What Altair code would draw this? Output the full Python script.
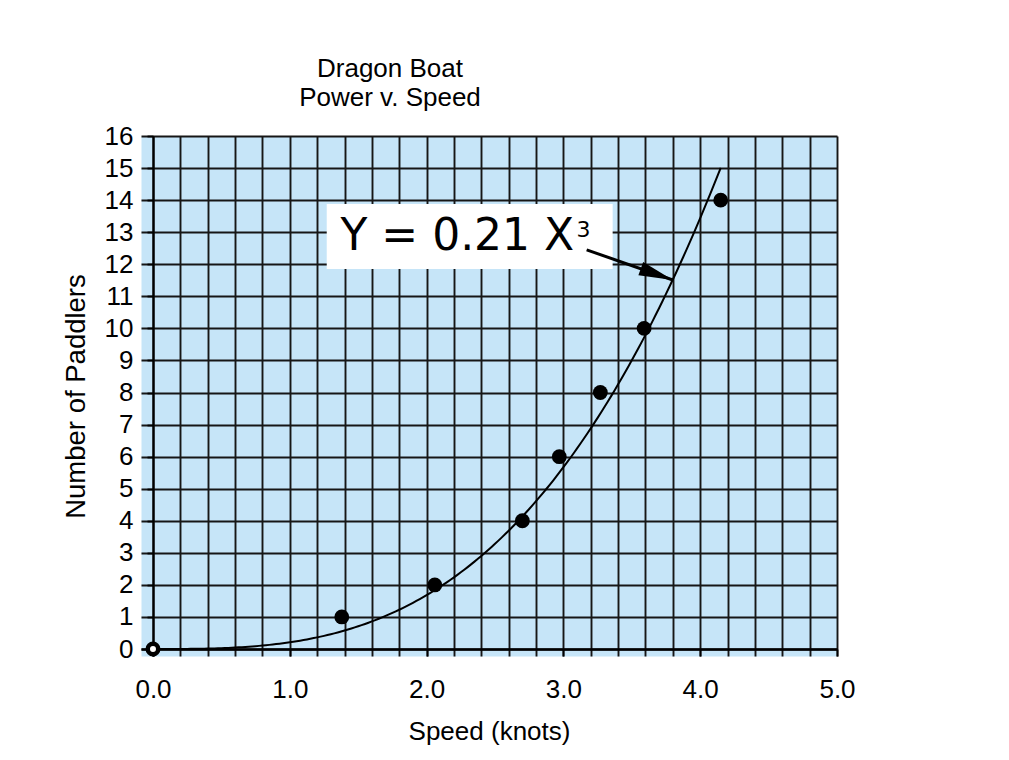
import altair as alt
import pandas as pd

# ---------------- data ----------------
speed = [1.38, 2.06, 2.70, 2.97, 3.27, 3.59, 4.15]
paddlers = [1, 2, 4, 6, 8, 10, 14]
origin_speed = [0.0]
origin_paddlers = [0]

# fitted curve Y = 0.21 X^3 (as printed on the chart)
fit_coef = 0.21
fit_power = 3
fit_end = 4.15

x_ticks = [round(i * 0.2, 1) for i in range(26)]
y_ticks = list(range(17))

title_lines = ["Dragon Boat", "Power v. Speed"]
x_title = "Speed (knots)"
y_title = "Number of Paddlers"
eq_label = ["Y = 0.21 X"]
eq_power = ["3"]

# annotation placement (data units)
box_x = [1.27]
box_x2 = [3.36]
box_y = [13.88]
box_y2 = [11.85]
label_x = [1.37]
label_y = [12.45]
arrow_x = [3.17]
arrow_y = [12.45]
arrow_x2 = [3.80]
arrow_y2 = [11.51]

FONT = "Liberation Sans, Arial, sans-serif"
GRID = "#161616"
W, H = 696, 520

xs = alt.Scale(domain=[-0.0877, 5], nice=False, zero=False)
ys = alt.Scale(domain=[-0.218, 16], nice=False, zero=False)

x_axis = alt.Axis(
    values=x_ticks,
    labelExpr="datum.value % 1 === 0 ? format(datum.value, '.1f') : ''",
    title=x_title, titleFont=FONT, titleFontSize=26, titleFontWeight="normal",
    titleColor="black", titleY=90, titleBaseline="alphabetic",
    labelFont=FONT, labelFontSize=26, labelColor="black", labelPadding=20,
    labelFlush=False, labelOverlap=False,
    tickSize=7, tickWidth=1.8,
    tickColor={"condition": {"test": "datum.value % 1 === 0", "value": "black"}, "value": "transparent"},
    domainColor="black", domainWidth=2.5,
    grid=True, gridColor=GRID, gridWidth=1.9, gridOpacity=1,
    offset=-7,
)
y_axis = alt.Axis(
    values=y_ticks, format="d",
    title=y_title, titleFont=FONT, titleFontSize=27.5, titleFontWeight="normal",
    titleColor="black", titleX=-69, titleBaseline="alphabetic",
    labelFont=FONT, labelFontSize=26, labelColor="black", labelPadding=14,
    labelFlush=False, labelOverlap=False,
    tickSize=6, tickWidth=1.8, tickColor="black",
    domainColor="black", domainWidth=2.2,
    grid=True, gridColor=GRID, gridWidth=1.9, gridOpacity=1,
    offset=-12,
)


def X(field):
    return alt.X(field, scale=xs, axis=x_axis)


def Y(field):
    return alt.Y(field, scale=ys, axis=y_axis)


pts_df = pd.DataFrame({"speed": speed, "paddlers": paddlers})
origin_df = pd.DataFrame({"speed": origin_speed, "paddlers": origin_paddlers})
box_df = pd.DataFrame({"speed": box_x, "x2": box_x2, "paddlers": box_y, "y2": box_y2})
label_df = pd.DataFrame({"speed": label_x, "paddlers": label_y, "t": eq_label, "p": eq_power})
arrow_df = pd.DataFrame({"speed": arrow_x, "paddlers": arrow_y, "x2": arrow_x2, "y2": arrow_y2})

points = alt.Chart(pts_df).mark_circle(size=220, color="black", opacity=1).encode(
    x=X("speed:Q"), y=Y("paddlers:Q"),
)

curve = (
    alt.Chart(alt.sequence(0, fit_end + 0.001, 0.025, as_="speed"))
    .transform_calculate(paddlers=f"{fit_coef} * pow(datum.speed, {fit_power})")
    .mark_line(color="black", strokeWidth=2)
    .encode(x=X("speed:Q"), y=Y("paddlers:Q"))
)

origin = alt.Chart(origin_df).mark_circle(
    size=110, fill="white", stroke="black", strokeWidth=4.5, opacity=1
).encode(x=X("speed:Q"), y=Y("paddlers:Q"))

box = alt.Chart(box_df).mark_rect(color="white", opacity=1).encode(
    x=X("speed:Q"), x2="x2:Q", y=Y("paddlers:Q"), y2="y2:Q",
)

label = alt.Chart(label_df).mark_text(
    align="left", baseline="alphabetic", font="DejaVu Sans", fontSize=44, color="black"
).encode(x=X("speed:Q"), y=Y("paddlers:Q"), text="t:N")

label_power = alt.Chart(label_df).mark_text(
    align="left", baseline="alphabetic", font="DejaVu Sans", fontSize=22, color="black",
    dx=236, dy=-13,
).encode(x=X("speed:Q"), y=Y("paddlers:Q"), text="p:N")

arrow_line = alt.Chart(arrow_df).mark_rule(color="black", strokeWidth=3).encode(
    x=X("speed:Q"), x2="x2:Q", y=Y("paddlers:Q"), y2="y2:Q",
)

arrow_head = alt.Chart(arrow_df).mark_point(
    shape="M0,0L-2,-0.42L-2,0.42Z", filled=True, color="black", opacity=1,
    size=1156, angle=19.5,
).encode(x=X("x2:Q"), y=Y("y2:Q"))

chart = (
    alt.layer(box, curve, points, origin, arrow_line, arrow_head, label, label_power)
    .properties(
        width=W, height=H,
        autosize=alt.AutoSizeParams(type="none"),
        padding={"left": 133, "top": 128, "right": 164, "bottom": 96},
        background="white",
        title=alt.TitleParams(
            text=title_lines, font=FONT, fontSize=26, fontWeight="normal",
            color="black", anchor="middle", frame="group", dx=-99,
            offset=-14, lineHeight=29, baseline="bottom",
        ),
    )
    .configure_view(fill="#c6e5f8", stroke="transparent")
)

chart.save("out.html", embed_options={"renderer": "svg", "actions": False})
